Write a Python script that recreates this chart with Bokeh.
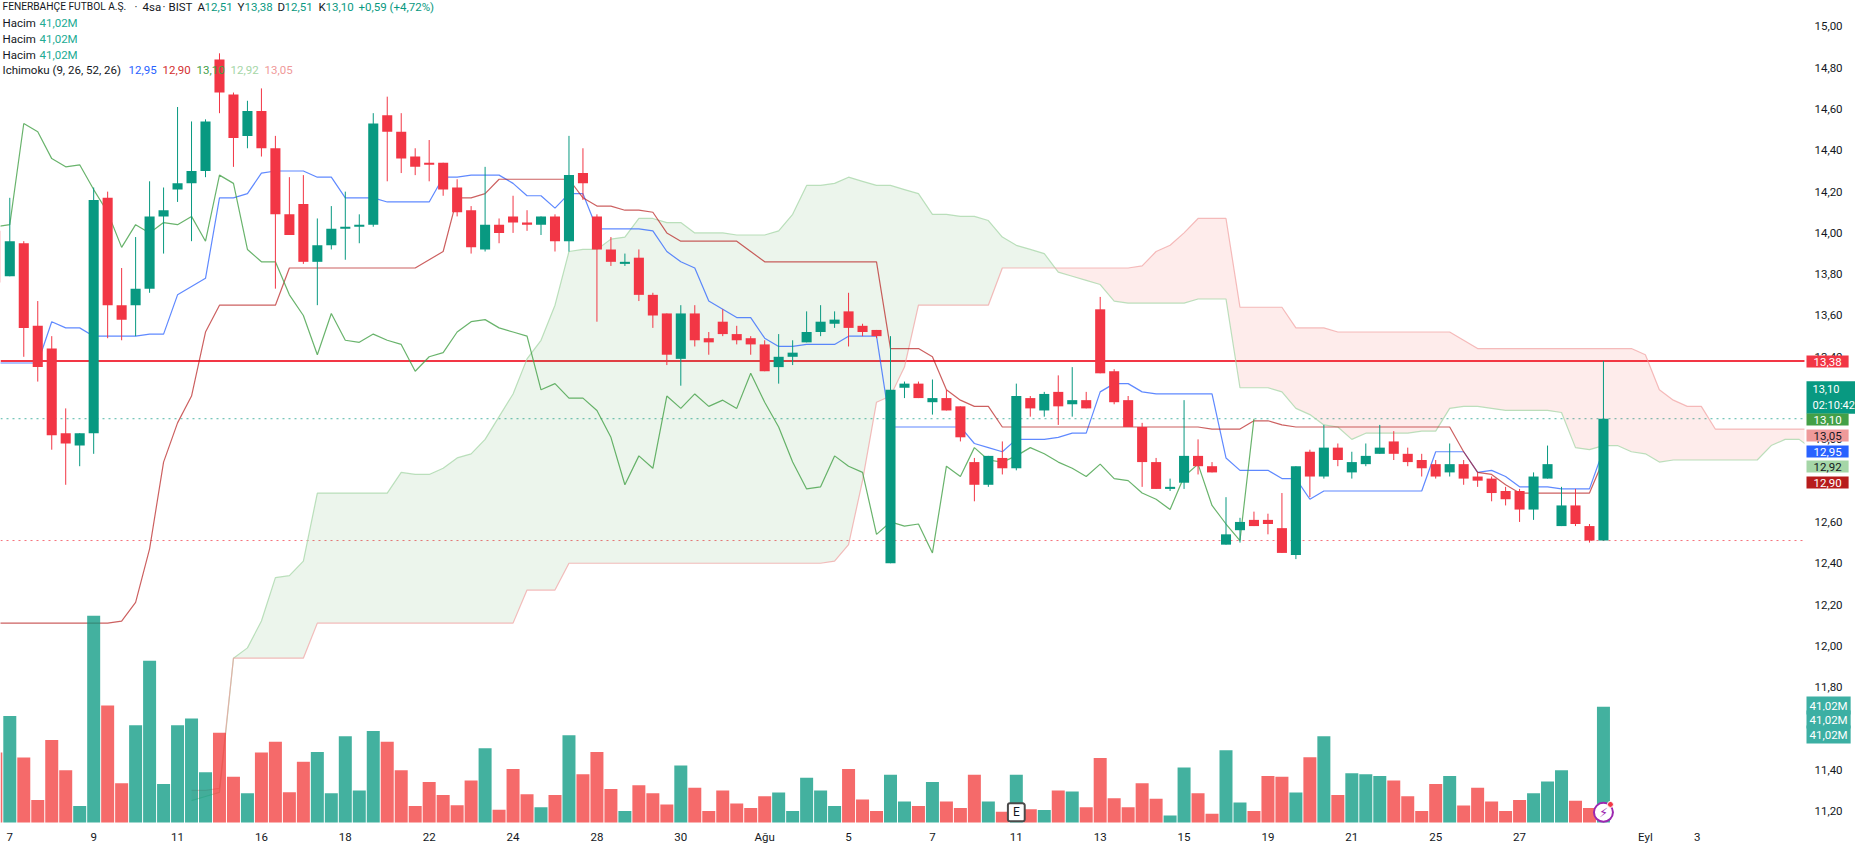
from bokeh.plotting import figure
from bokeh.embed import file_html
from bokeh.resources import INLINE
from bokeh.models import Range1d, FixedTicker, CustomJSTickFormatter, Label, Span
import numpy as np

# candles (4h bars), the first one is cut by the left edge
opens = [14.01,13.79,13.95,13.55,13.44,13.03,12.97,13.03,14.17,13.65,13.65,13.73,14.08,14.21,14.24,14.30,14.84,14.67,14.47,14.59,14.41,
         14.09,14.14,13.86,13.94,14.02,14.03,14.04,14.57,14.49,14.37,14.34,14.34,14.22,14.11,13.92,14.04,14.08,14.05,14.04,14.08,
         13.96,14.29,14.08,13.92,13.85,13.88,13.70,13.61,13.39,13.61,13.49,13.57,13.51,13.49,13.46,13.35,13.40,13.47,13.52,13.56,
         13.62,13.55,13.53,12.40,13.25,13.27,13.18,13.20,13.16,12.89,12.78,12.91,12.86,13.20,13.14,13.23,13.17,13.19,13.63,13.33,
         13.19,13.06,12.89,12.76,12.79,12.92,12.87,12.49,12.56,12.61,12.61,12.57,12.44,12.94,12.82,12.96,12.84,12.88,12.93,12.99,
         12.93,12.90,12.88,12.84,12.88,12.82,12.81,12.75,12.75,12.66,12.81,12.58,12.68,12.58,12.51]
highs = [14.01,14.17,13.96,13.67,13.50,13.15,13.03,14.22,14.20,13.83,13.98,14.25,14.22,14.61,14.54,14.55,14.87,14.68,14.64,14.70,14.47,
         14.27,14.28,14.07,14.13,14.20,14.09,14.58,14.66,14.58,14.41,14.45,14.34,14.26,14.13,14.32,14.07,14.18,14.11,14.08,14.09,
         14.47,14.41,14.09,13.98,13.90,13.92,13.71,13.61,13.65,13.65,13.52,13.63,13.55,13.50,13.48,13.51,13.48,13.62,13.65,13.62,
         13.71,13.56,13.53,13.50,13.28,13.28,13.29,13.24,13.16,12.91,12.92,12.99,13.27,13.21,13.23,13.31,13.35,13.23,13.69,13.34,
         13.21,13.08,12.91,12.81,13.19,13.00,12.89,12.72,12.62,12.65,12.64,12.74,12.87,12.95,13.07,12.98,12.94,12.98,13.07,13.04,
         12.96,12.93,12.90,12.98,12.90,12.84,12.82,12.77,12.76,12.84,12.97,12.77,12.76,12.59,13.38]
lows = [13.75,13.79,13.40,13.28,12.95,12.78,12.87,12.93,13.49,13.48,13.50,13.71,13.90,14.15,13.96,14.27,14.58,14.32,14.41,14.37,13.73,
        13.99,13.85,13.65,13.92,13.87,13.95,14.03,14.25,14.29,14.28,14.25,14.18,14.08,13.90,13.91,13.95,14.00,14.01,13.99,13.91,
        13.91,14.16,13.57,13.84,13.84,13.67,13.54,13.36,13.26,13.45,13.41,13.50,13.46,13.41,13.33,13.27,13.36,13.47,13.50,13.54,
        13.45,13.50,13.49,12.40,13.20,13.20,13.12,13.14,12.99,12.70,12.77,12.83,12.85,13.11,13.11,13.07,13.11,13.15,13.32,13.17,
        13.06,12.77,12.76,12.75,12.76,12.83,12.84,12.49,12.50,12.58,12.54,12.45,12.42,12.72,12.81,12.87,12.81,12.87,12.93,12.90,
        12.87,12.82,12.81,12.82,12.78,12.77,12.70,12.68,12.60,12.61,12.81,12.58,12.58,12.50,12.51]
closes = [13.76,13.96,13.54,13.35,13.02,12.98,13.03,14.16,13.65,13.58,13.73,14.08,14.11,14.24,14.30,14.54,14.68,14.46,14.59,14.41,14.09,
          13.99,13.86,13.94,14.02,14.03,14.04,14.53,14.49,14.36,14.32,14.33,14.21,14.10,13.93,14.04,14.00,14.05,14.04,14.08,13.96,
          14.28,14.24,13.92,13.86,13.86,13.70,13.60,13.41,13.61,13.48,13.47,13.51,13.48,13.46,13.33,13.40,13.42,13.52,13.57,13.58,
          13.54,13.52,13.50,13.24,13.27,13.20,13.20,13.14,13.01,12.78,12.92,12.86,13.21,13.15,13.22,13.16,13.19,13.15,13.32,13.18,
          13.06,12.89,12.76,12.77,12.92,12.87,12.84,12.54,12.60,12.58,12.59,12.45,12.87,12.82,12.96,12.90,12.89,12.92,12.96,12.93,
          12.89,12.86,12.82,12.88,12.81,12.80,12.74,12.71,12.66,12.82,12.88,12.68,12.59,12.51,13.10]
# volume in millions
volumes = [24.8,37.7,23.0,8.0,29.2,18.5,5.8,73.2,41.4,13.9,34.4,57.3,13.6,34.4,36.8,17.8,31.8,16.2,10.4,24.8,28.6,
           10.7,21.5,25.0,10.4,30.5,11.3,32.4,28.6,18.5,5.8,14.3,9.7,6.1,14.9,26.3,4.5,18.9,10.0,5.4,9.7,
           30.9,17.1,25.0,11.9,4.1,13.2,10.4,6.4,20.2,12.3,4.1,11.3,6.7,5.1,9.3,10.6,4.1,15.8,11.3,5.8,
           18.9,8.1,4.1,16.9,7.4,5.8,14.3,7.4,5.1,16.9,7.4,3.8,16.9,4.7,4.4,11.3,11.0,5.4,22.8,8.6,
           5.4,13.9,8.4,2.5,19.5,10.4,3.1,25.6,7.1,4.1,16.5,16.2,10.6,23.1,30.5,9.7,17.4,17.1,16.5,14.9,
           9.3,4.1,13.6,16.5,6.0,12.3,7.4,4.1,8.0,10.4,14.5,18.5,7.7,5.1,41.02]
# ichimoku lines
tenkan = [13.37,13.37,13.37,13.37,13.57,13.54,13.54,13.50,13.50,13.50,13.50,13.51,13.51,13.70,13.74,13.78,14.17,14.17,14.19,14.29,14.30,
          14.30,14.30,14.27,14.27,14.17,14.17,14.17,14.15,14.15,14.15,14.15,14.27,14.27,14.28,14.28,14.28,14.24,14.18,14.18,14.12,
          14.19,14.19,14.02,14.02,14.02,14.02,14.01,13.91,13.86,13.83,13.67,13.63,13.59,13.59,13.49,13.45,13.45,13.46,13.46,13.46,
          13.50,13.50,13.50,13.06,13.06,13.06,13.06,13.06,13.06,12.98,12.96,12.94,13.00,13.00,13.00,13.01,13.03,13.03,13.23,13.27,
          13.27,13.23,13.22,13.22,13.22,13.22,13.22,12.91,12.85,12.85,12.85,12.81,12.81,12.71,12.75,12.75,12.75,12.75,12.75,12.75,
          12.75,12.75,12.94,12.94,12.94,12.84,12.85,12.82,12.77,12.77,12.77,12.76,12.76,12.76,12.95]
kijun = [12.11,12.11,12.11,12.11,12.11,12.11,12.11,12.11,12.11,12.12,12.21,12.47,12.89,13.08,13.21,13.52,13.65,13.65,13.65,13.65,13.65,
         13.83,13.83,13.83,13.83,13.83,13.83,13.83,13.83,13.83,13.83,13.87,13.91,14.17,14.17,14.19,14.26,14.26,14.26,14.26,14.26,
         14.26,14.17,14.13,14.13,14.11,14.11,14.10,14.00,13.96,13.96,13.96,13.96,13.96,13.91,13.86,13.86,13.86,13.86,13.86,13.86,
         13.86,13.86,13.86,13.44,13.44,13.44,13.40,13.24,13.19,13.16,13.16,13.06,13.06,13.06,13.06,13.06,13.06,13.06,13.06,13.06,
         13.06,13.06,13.06,13.06,13.06,13.06,13.05,13.05,13.05,13.09,13.09,13.07,13.06,13.06,13.06,13.06,13.06,13.06,13.06,13.06,
         13.06,13.06,13.06,13.06,12.94,12.84,12.83,12.78,12.74,12.74,12.74,12.74,12.74,12.74,12.90]
chikou = [14.03,14.04,14.53,14.49,14.36,14.32,14.33,14.21,14.10,13.93,14.04,14.00,14.05,14.04,14.08,13.96,14.28,14.24,13.92,13.86,13.86,
          13.70,13.60,13.41,13.61,13.48,13.47,13.51,13.48,13.46,13.33,13.40,13.42,13.52,13.57,13.58,13.54,13.52,13.50,13.24,13.27,
          13.20,13.20,13.14,13.01,12.78,12.92,12.86,13.21,13.15,13.22,13.16,13.19,13.15,13.32,13.18,13.06,12.89,12.76,12.77,12.92,
          12.87,12.84,12.54,12.60,12.58,12.59,12.45,12.87,12.82,12.96,12.90,12.89,12.92,12.96,12.93,12.89,12.86,12.82,12.88,12.81,
          12.80,12.74,12.71,12.66,12.82,12.88,12.68,12.59,12.51,13.10]
# cloud spans start at bar 13 and run past the last candle
span_a = [11.25,11.27,11.29,11.94,11.99,12.12,12.33,12.34,12.41,12.74,12.74,12.74,12.74,12.74,12.74,12.84,12.83,12.83,12.86,12.91,
          12.93,13.00,13.11,13.22,13.39,13.48,13.65,13.91,13.92,13.92,13.97,13.98,14.07,14.07,14.05,14.05,14.00,14.00,14.00,13.99,
          13.99,13.99,14.01,14.09,14.23,14.23,14.24,14.27,14.25,14.23,14.23,14.21,14.19,14.09,14.09,14.08,14.08,14.06,13.98,13.94,
          13.92,13.90,13.81,13.79,13.77,13.75,13.67,13.66,13.66,13.66,13.66,13.66,13.68,13.68,13.68,13.25,13.25,13.25,13.23,13.15,
          13.12,13.07,13.06,13.00,13.03,13.03,13.03,13.03,13.04,13.04,13.15,13.16,13.16,13.15,13.14,13.14,13.14,13.14,13.13,
          12.96,12.95,12.97,12.97,12.94,12.93,12.89,12.90,12.90,12.90,12.90,12.90,12.90,12.90,12.97,13.00,13.00,12.95]
span_b = [11.30,11.30,11.31,11.94,11.94,11.94,11.94,11.94,11.94,12.11,12.11,12.11,12.11,12.11,12.11,12.11,12.11,12.11,12.11,12.11,
          12.11,12.11,12.11,12.11,12.27,12.27,12.27,12.40,12.40,12.40,12.40,12.40,12.40,12.40,12.40,12.40,12.40,12.40,12.40,12.40,
          12.40,12.40,12.40,12.40,12.40,12.40,12.41,12.49,12.80,13.18,13.21,13.35,13.65,13.65,13.65,13.65,13.65,13.65,13.83,13.83,
          13.83,13.83,13.83,13.83,13.83,13.83,13.83,13.83,13.84,13.91,13.94,14.00,14.07,14.07,14.07,13.64,13.64,13.64,13.64,13.54,
          13.54,13.54,13.52,13.52,13.52,13.52,13.52,13.52,13.52,13.52,13.52,13.48,13.44,13.44,13.44,13.44,13.44,13.44,13.44,13.44,
          13.44,13.44,13.44,13.44,13.41,13.24,13.19,13.16,13.16,13.05,13.05,13.05,13.05,13.05,13.05,13.05,13.05]
# labels
tick_prices = [11.2,11.4,11.6,11.8,12.0,12.2,12.4,12.6,12.8,13.0,13.2,13.4,13.6,13.8,14.0,14.2,14.4,14.6,14.8,15.0]
tick_bars = [0,6,12,18,24,30,36,42,48,54,60,66,72,78,84,90,96,102,108,117,120.7]
tick_names = ["7","9","11","16","18","22","24","28","30","Ağu","5","7","11","13","15","19","21","25","27","Eyl","3"]

GREEN = "#089981"
RED = "#F23645"
TEXT = "#131722"
FONT = "Roboto"
W = 1855
H = 846
FRAME_H = 825
SCALE_X = 128.38  # bar index where the price scale starts

# the frame runs under the price scale so the tags can be drawn there
p = figure(width=W, height=H, output_backend="svg", toolbar_location=None,
           x_range=Range1d(-0.665, 132.03), y_range=Range1d(11.1345, 15.1258),
           y_axis_location="right", min_border_left=0, min_border_top=0,
           min_border_right=0, min_border_bottom=H - FRAME_H)
p.extra_y_ranges = {"volume": Range1d(-0.707, 291.0)}
p.outline_line_color = None
p.background_fill_color = "white"
p.grid.visible = False

p.yaxis.fixed_location = SCALE_X
p.yaxis.ticker = FixedTicker(ticks=tick_prices)
p.yaxis.formatter = CustomJSTickFormatter(code="return tick.toFixed(2).replace('.', ',')")
p.yaxis.major_tick_line_color = None
p.yaxis.minor_tick_line_color = None
p.yaxis.major_tick_out = 0
p.yaxis.major_tick_in = 0
p.yaxis.axis_line_color = None
p.yaxis.major_label_standoff = 10
p.yaxis.major_label_text_font = FONT
p.yaxis.major_label_text_font_size = "11.5px"
p.yaxis.major_label_text_color = TEXT

p.xaxis.ticker = FixedTicker(ticks=tick_bars)
p.xaxis.major_label_overrides = dict(zip(tick_bars, tick_names))
p.xaxis.major_tick_line_color = None
p.xaxis.minor_tick_line_color = None
p.xaxis.major_tick_out = 0
p.xaxis.major_tick_in = 0
p.xaxis.axis_line_color = None
p.xaxis.major_label_standoff = 5
p.xaxis.major_label_text_font = FONT
p.xaxis.major_label_text_font_size = "11.5px"
p.xaxis.major_label_text_color = TEXT

# cloud: add the crossing points so the two fills meet
xs = []
a = []
b = []
for n in range(len(span_a)):
    xs.append(13 + n)
    a.append(span_a[n])
    b.append(span_b[n])
    if n + 1 < len(span_a):
        d0 = span_a[n] - span_b[n]
        d1 = span_a[n + 1] - span_b[n + 1]
        if d0 * d1 < 0:
            t = d0 / (d0 - d1)
            xs.append(13 + n + t)
            v = span_a[n] + t * (span_a[n + 1] - span_a[n])
            a.append(v)
            b.append(v)
top = np.maximum(a, b)
p.varea(xs, y1=b, y2=top, fill_color="#43A047", fill_alpha=0.1)
p.varea(xs, y1=a, y2=top, fill_color="#F44336", fill_alpha=0.1)

span_x = list(range(13, 13 + len(span_a)))
p.line(span_x, span_a, line_color="#A5D6A7", line_width=1.2, line_alpha=0.75)
p.line(span_x, span_b, line_color="#EF9A9A", line_width=1.2, line_alpha=0.65)
p.line(list(range(-1, len(tenkan) - 1)), tenkan, line_color="#2962FF", line_width=1.2, line_alpha=0.75)
p.line(list(range(-1, len(kijun) - 1)), kijun, line_color="#B71C1C", line_width=1.2, line_alpha=0.7)
p.line(list(range(-1, len(chikou) - 1)), chikou, line_color="#43A047", line_width=1.2, line_alpha=0.8)

bars = list(range(-1, len(closes) - 1))
colors = [GREEN if c >= o else RED for o, c in zip(opens, closes)]
vol_colors = ["#089981" if c == GREEN else "#F23B3B" for c in colors]

# volume panel shares the frame with its own range
p.vbar(bars, width=0.93, top=volumes, bottom=0, fill_color=vol_colors, fill_alpha=0.76,
       line_color=None, y_range_name="volume")

# price lines sit under the candles
p.add_layout(Span(location=13.38, dimension="width", line_color=RED, line_width=2, level="underlay"))
p.add_layout(Span(location=13.10, dimension="width", line_color=GREEN, line_width=1, line_dash="dotted",
                  line_alpha=0.7, level="underlay"))
p.add_layout(Span(location=12.51, dimension="width", line_color=RED, line_width=1, line_dash="dotted",
                  line_alpha=0.7, level="underlay"))

p.segment(bars, highs, bars, lows, line_color=colors, line_width=1)
p.vbar(bars, width=0.72, top=[max(o, c) for o, c in zip(opens, closes)],
       bottom=[min(o, c) for o, c in zip(opens, closes)], fill_color=colors, line_color=None)

# earnings and dividend style markers at the bottom
p.add_layout(Label(x=72, y=3.6, y_range_name="volume", text="E", text_align="center", text_baseline="middle",
                   text_font=FONT, text_font_size="12px", text_color=TEXT, background_fill_color="white",
                   border_line_color="#4a4a4a", border_line_width=2, border_radius=2, padding=(5, 2)))
p.scatter([114], [3.6], y_range_name="volume", size=19, marker="circle", fill_color="white",
          line_color="#9C27B0", line_width=2)
p.scatter([114.5], [6.4], y_range_name="volume", size=6, marker="circle", fill_color="#F23645", line_color="white")
p.add_layout(Label(x=114, y=3.6, y_range_name="volume", text="⚡", text_align="center", text_baseline="middle",
                   text_font="DejaVu Sans", text_font_size="13px", text_color="#9C27B0"))

# blank strip for the price scale, on top of anything that runs past it
p.quad(left=SCALE_X, right=140, bottom=11, top=16, fill_color="white", line_color=None)


def text_at(x, y, text, color=TEXT, size="11.5px"):
    # x and y are picture pixels
    p.add_layout(Label(x=x, y=FRAME_H - y, x_units="screen", y_units="screen", text=text,
                       text_font=FONT, text_font_size=size, text_color=color, text_baseline="middle"))


# legend
text_at(2, 7, "FENERBAHÇE FUTBOL A.Ş.", size="10.2px")
text_at(134, 7, "·")
text_at(142, 7, "4sa")
text_at(162, 7, "·")
text_at(168, 7, "BIST")
text_at(197, 7, "A")
text_at(204, 7, "12,51", GREEN)
text_at(237, 7, "Y")
text_at(244, 7, "13,38", GREEN)
text_at(277, 7, "D")
text_at(284, 7, "12,51", GREEN)
text_at(318, 7, "K")
text_at(325, 7, "13,10", GREEN)
text_at(358, 7, "+0,59 (+4,72%)", GREEN)
for row_y in [23, 39, 55]:
    text_at(2, row_y, "Hacim")
    text_at(39, row_y, "41,02M", "#22AB94")
text_at(2, 70, "Ichimoku (9, 26, 52, 26)")
text_at(128, 70, "12,95", "#2962FF")
text_at(162, 70, "12,90", "#D32F2F")
text_at(196, 70, "13,10", "#43A047")
text_at(230, 70, "12,92", "#A5D6A7")
text_at(264, 70, "13,05", "#EF9A9A")


def tag(y, text, bg, color="white", pad=7, size="11.5px"):
    p.add_layout(Label(x=1806, y=FRAME_H - y, x_units="screen", y_units="screen", text=text,
                       text_font=FONT, text_font_size=size, text_color=color, text_baseline="middle",
                       background_fill_color=bg, padding=(pad, 2)))


# tags on the price scale
tag(362, "13,38", RED)
tag(398, "13,10\n02:10:42", GREEN, pad=6, size="11px")
tag(420, "13,10", "#43A047")
tag(436, "13,05", "#EF9A9A", TEXT)
tag(452, "12,95", "#2962FF")
tag(467, "12,92", "#A5D6A7", TEXT)
tag(483, "12,90", "#B71C1C")
tag(706, "41,02M", "#3CAFA3", pad=3)
tag(720, "41,02M", "#3CAFA3", pad=3)
tag(735, "41,02M", "#3CAFA3", pad=3)

open("out.html", "w").write(file_html(p, INLINE))
